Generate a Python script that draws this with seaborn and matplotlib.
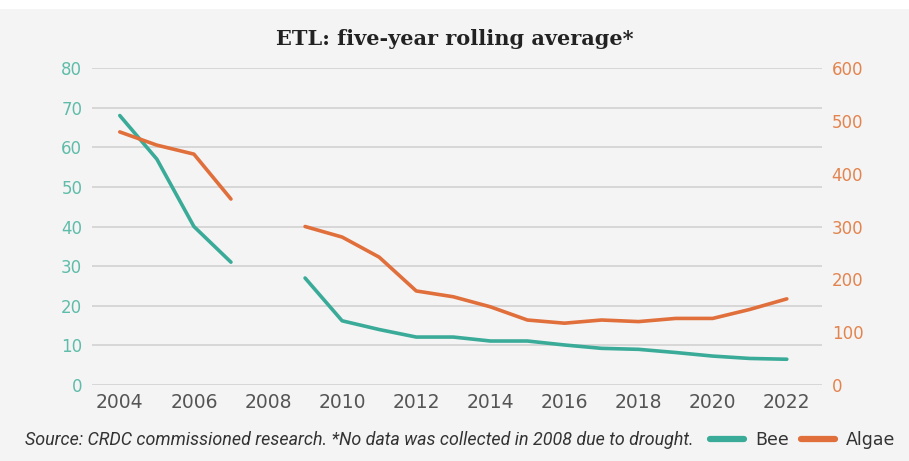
import numpy as np
import pandas as pd
import seaborn as sns
import matplotlib.pyplot as plt
from matplotlib.patches import Rectangle
from matplotlib.lines import Line2D

# Data (no data in 2008)
years = list(range(2004, 2023))
bee = [68, 57, 40, 31, np.nan, 27, 16.2, 14, 12.1, 12.1, 11.1, 11.1,
       10.1, 9.25, 9.0, 8.2, 7.3, 6.7, 6.5]
algae = [479, 454, 437, 352, np.nan, 300, 280, 242, 178, 167, 148, 123,
         117, 123, 120, 126, 126, 143, 163]

bee_color = '#3aab98'
algae_color = '#e06f3b'
bee_tick = '#5fbcaa'
algae_tick = '#e3844f'
bg = '#f4f4f4'

df = pd.DataFrame({'Year': years, 'Bee': bee, 'Algae': algae})
# split into segments around the 2008 gap
df['segment'] = (df['Year'] > 2008).astype(int)
df = df.dropna()

sns.set_style('white')
plt.rcParams['font.family'] = ['DejaVu Sans']

fig = plt.figure(figsize=(9.09, 4.61), dpi=100, facecolor=bg)
fig.patches.append(Rectangle((0, 1 - 9 / 461), 1, 9 / 461, transform=fig.transFigure,
                             facecolor='white', edgecolor='none', zorder=0))
ax = fig.add_axes([92 / 909, 1 - 385 / 461, (822 - 92) / 909, (385 - 68) / 461])
ax.set_facecolor(bg)
ax2 = ax.twinx()

sns.lineplot(data=df, x='Year', y='Bee', units='segment', estimator=None,
             color=bee_color, linewidth=2.6, ax=ax)
sns.lineplot(data=df, x='Year', y='Algae', units='segment', estimator=None,
             color=algae_color, linewidth=2.6, ax=ax2)

ax.set_xlim(2003.25, 2022.95)
ax.set_ylim(0, 80)
ax2.set_ylim(0, 600)
ax.set_yticks(range(0, 81, 10))
ax2.set_yticks(range(0, 601, 100))
ax.set_xticks(range(2004, 2023, 2))

ax.grid(axis='y', color='#d4d4d4', linewidth=1.3)
ax.set_axisbelow(True)
for a in (ax, ax2):
    for s in a.spines.values():
        s.set_visible(False)
    a.set_xlabel('')
    a.set_ylabel('')

ax.tick_params(axis='y', length=0, pad=7, labelsize=12, labelcolor=bee_tick)
ax2.tick_params(axis='y', length=0, pad=7, labelsize=12, labelcolor=algae_tick)
ax.tick_params(axis='x', length=0, pad=6, labelsize=13.5, labelcolor='#555555')

fig.text(0.5, 1 - 39 / 461, 'ETL: five-year rolling average*', ha='center', va='center',
         fontsize=15, fontweight='bold', family='DejaVu Serif', color='#222222')

fig.text(25 / 909, 1 - 440 / 461,
         'Source: CRDC commissioned research. *No data was collected in 2008 due to drought.',
         ha='left', va='center', fontsize=12.9, style='italic', color='#333333',
         family=['Liberation Sans Narrow', 'Roboto', 'DejaVu Sans'])

handles = [Line2D([], [], color=bee_color, linewidth=4.5),
           Line2D([], [], color=algae_color, linewidth=4.5)]
fig.legend(handles, ['Bee', 'Algae'], loc='center right', bbox_to_anchor=(1.002, 1 - 440 / 461),
           ncol=2, frameon=False, fontsize=12.5, handlelength=2.0, handletextpad=0.6,
           columnspacing=0.7, labelcolor='#333333')

fig.savefig('out.png', dpi=100, facecolor=bg)
